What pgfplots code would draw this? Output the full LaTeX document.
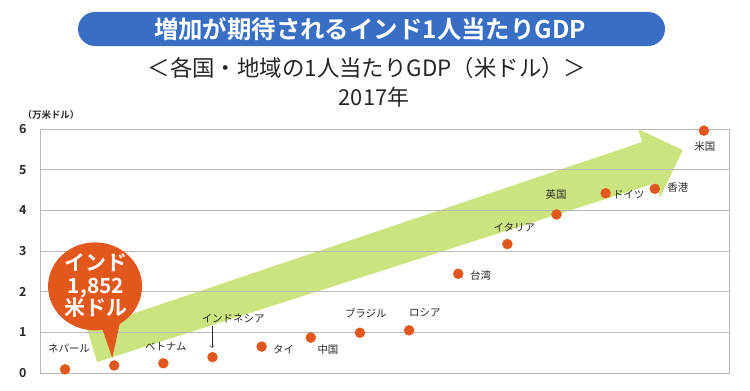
\documentclass[border=0pt]{standalone}
\usepackage{fontspec}
\setmainfont{Noto Sans CJK JP}[BoldFont={Noto Sans CJK JP Bold}]
\usepackage{pgfplots}
\pgfplotsset{compat=1.18}
\definecolor{gorange}{RGB}{226,88,28}
\definecolor{gblue}{RGB}{56,110,196}
\definecolor{ggreen}{RGB}{204,228,128}
\definecolor{ggrid}{RGB}{185,185,185}
\definecolor{gtext}{RGB}{40,40,40}
\tikzset{lbl/.style={font=\fontsize{10.5}{11}\selectfont,text=gtext,inner sep=0pt}}
\begin{document}
\begin{tikzpicture}[x=1bp,y=1bp]
\path (0,0) rectangle (750,390);
\fill[gblue,rounded corners=17bp] (78,344) rectangle (665,378);
\node[text=white,font=\fontsize{24.5}{24.5}\selectfont\bfseries] at (370,361) {増加が期待されるインド1人当たりGDP};
\node[text=black!85,font=\fontsize{22.5}{22.5}\selectfont] at (367,322) {＜各国・地域の1人当たりGDP（米ドル）＞};
\node[text=black!85,font=\fontsize{22}{22}\selectfont] at (374,293) {2017年};
\node[text=gtext,font=\fontsize{9.5}{10}\selectfont\bfseries] at (51,275) {（万米ドル）};
\begin{axis}[
  at={(40bp,17bp)}, anchor=south west,
  scale only axis, width=689bp, height=244bp,
  xmin=-0.51, xmax=13.51, ymin=0, ymax=6,
  ytick={0,1,2,3,4,5,6}, xtick=\empty,
  ymajorgrids, grid style={ggrid,line width=0.9bp},
  axis line style={ggrid,line width=0.9bp},
  major tick length=0pt,
  tick label style={font=\fontsize{12.5}{12.5}\selectfont\bfseries,text=gtext},
  yticklabel style={xshift=-10bp},
  /pgf/number format/assume math mode=true,
  clip=false, set layers,
]
\addplot[on layer=axis background, fill=ggreen, draw=none] coordinates {
  (0.651,0.27) (0.448,1.08) (11.74,5.68) (11.66,6.0) (12.57,5.48) (12.11,4.33) (12.01,4.67) (0.651,0.27)};
\fill[gorange] (axis cs:0.61,2.13) ellipse[x radius=47bp, y radius=44bp];
\fill[gorange] (axis cs:0.71,1.25) -- (axis cs:1.12,1.25) -- (axis cs:0.96,0.37) -- cycle;
\node[text=white,font=\fontsize{21}{22.5}\selectfont\bfseries,align=center] at (axis cs:0.63,2.15) {インド\\1,852\\米ドル};
\addplot[only marks, mark=*, mark size=5bp, color=gorange] coordinates {
  (0,0.09) (1,0.1852) (2,0.24) (3,0.39) (4,0.65) (5,0.87) (6,0.99)
  (7,1.05) (8,2.44) (9,3.17) (10,3.90) (11,4.42) (12,4.53) (13,5.96)};
\node[lbl] at (axis cs:0.08,0.61) {ネパール};
\node[lbl] at (axis cs:2.05,0.64) {ベトナム};
\node[lbl] at (axis cs:3.42,1.35) {インドネシア};
\draw[->,gtext,line width=0.6bp] (axis cs:2.99,1.16) -- (axis cs:2.99,0.62);
\node[lbl,anchor=west] at (axis cs:4.23,0.59) {タイ};
\node[lbl] at (axis cs:5.35,0.57) {中国};
\node[lbl] at (axis cs:6.12,1.48) {ブラジル};
\node[lbl] at (axis cs:7.32,1.48) {ロシア};
\node[lbl,anchor=west] at (axis cs:8.24,2.39) {台湾};
\node[lbl] at (axis cs:9.14,3.57) {イタリア};
\node[lbl] at (axis cs:9.99,4.38) {英国};
\node[lbl,anchor=west] at (axis cs:11.15,4.38) {ドイツ};
\node[lbl,anchor=west] at (axis cs:12.25,4.55) {香港};
\node[lbl] at (axis cs:13.02,5.56) {米国};
\end{axis}
\end{tikzpicture}
\end{document}
